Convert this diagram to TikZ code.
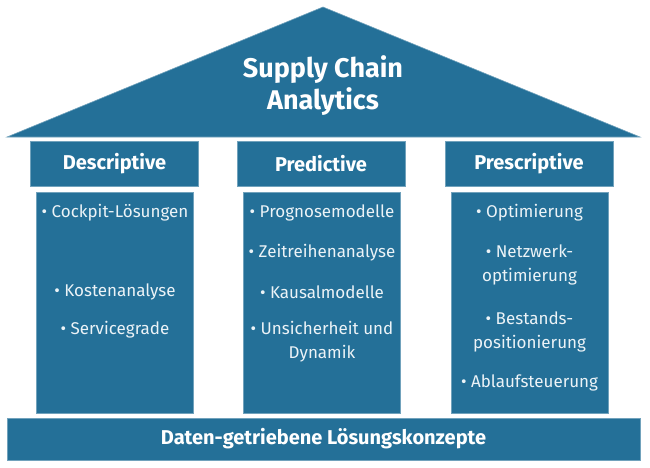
\documentclass[tikz,border=0pt]{standalone}
\usepackage{fontspec}
\setmainfont{Fira Sans}
\usepackage{xcolor}
\usepackage{tikz}
\usetikzlibrary{positioning}
\definecolor{scblue}{RGB}{36,112,152}
\definecolor{sctext}{RGB}{236,243,247}

\begin{document}
\begin{tikzpicture}[
  x=1pt, y=-1pt,
  block/.style={fill=scblue, draw=scblue!65!white, line width=0.6pt, inner sep=0pt},
  head/.style={block, minimum width=168pt, minimum height=45pt, text=white,
               font=\fontsize{20}{22}\selectfont\bfseries},
  pillar/.style={block, minimum width=157pt, minimum height=221pt},
  item/.style={text=sctext, align=center, inner sep=0pt,
               font=\fontsize{17}{24}\selectfont}
]
\useasboundingbox (0,0) rectangle (650,468);
% roof
\coordinate (roofL) at (7,137);
\coordinate (apex) at (323,7);
\coordinate (roofR) at (640,137);
\filldraw[block] (roofL) -- (apex) -- (roofR) -- cycle;
\node[text=white, align=center, font=\fontsize{27}{32}\selectfont\bfseries] (title) at (323,86) {Supply Chain\\Analytics};
% pillar heads
\node[head] (desc) at (114.5,164) {Descriptive};
\node[head] (pred) at (321,164) {Predictive};
\node[head] (presc) at (529,164) {Prescriptive};
% pillars
\node[pillar] (descp) at (115,302.5) {};
\node[pillar] (predp) at (322,302.5) {};
\node[pillar] (prescp) at (529.5,302.5) {};
% items
\node[item] (d1) at (115,213) {\textbullet\ Cockpit-Lösungen};
\node[item] (d2) at (115,292) {\textbullet\ Kostenanalyse};
\node[item] (d3) at (115,330) {\textbullet\ Servicegrade};
\node[item] (p1) at (322,213) {\textbullet\ Prognosemodelle};
\node[item] (p2) at (322,253) {\textbullet\ Zeitreihenanalyse};
\node[item] (p3) at (322,292) {\textbullet\ Kausalmodelle};
\node[item] (p4) at (322,341.5) {\textbullet\ Unsicherheit und\\Dynamik};
\node[item] (s1) at (529.5,213) {\textbullet\ Optimierung};
\node[item] (s2) at (529.5,265) {\textbullet\ Netzwerk-\\optimierung};
\node[item] (s3) at (529.5,332) {\textbullet\ Bestands-\\positionierung};
\node[item] (s4) at (529.5,383) {\textbullet\ Ablaufsteuerung};
% base
\node[block, minimum width=633pt, minimum height=42pt, text=white,
      font=\fontsize{20}{22}\selectfont\bfseries] (base) at (323.5,439) {Daten-getriebene Lösungskonzepte};
\end{tikzpicture}
\end{document}
